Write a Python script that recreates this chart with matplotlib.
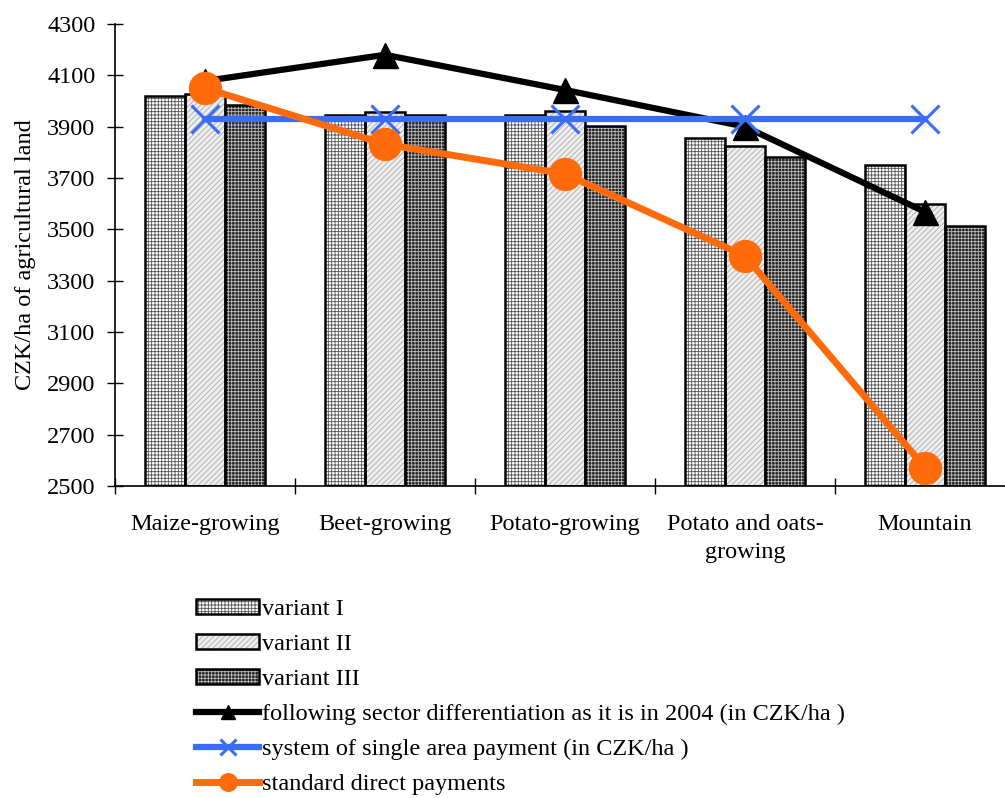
import matplotlib.pyplot as plt
import numpy as np
from matplotlib.legend_handler import HandlerTuple

plt.rcParams["font.family"] = ["Liberation Serif", "DejaVu Serif"]
plt.rcParams["hatch.linewidth"] = 0.6

# Regions and payment variants (CZK/ha of agricultural land)
regions = ["Maize-growing", "Beet-growing", "Potato-growing",
           "Potato and oats-\ngrowing", "Mountain"]
variant_1 = [4020, 3945, 3945, 3855, 3750]
variant_2 = [4028, 3958, 3960, 3826, 3598]
variant_3 = [3986, 3945, 3903, 3782, 3512]
sector_2004 = [4078, 4180, 4043, 3900, 3568]
single_area = [3928, 3928, 3928, 3928, 3928]
standard_direct = [4050, 3832, 3716, 3396, 2572]

fs = 17.5

fig = plt.figure(figsize=(10.05, 7.98), dpi=100)
ax = fig.add_axes([115 / 1005, 1 - 486 / 798, 900 / 1005, 462 / 798])

x = np.arange(len(regions))
w = 0.222
base = 2500

styles = [
    (variant_1, -w, "white", "#555555", "+++++"),
    (variant_2, 0, "#eeeeee", "#aaaaaa", "//////"),
    (variant_3, w, "#222222", "#bbbbbb", "+++++"),
]
bar_handles = []
for vals, off, fc, hc, hatch in styles:
    heights = np.array(vals) - base
    fill = ax.bar(x + off, heights, w, bottom=base, color=fc,
                  edgecolor=hc, hatch=hatch, linewidth=0, zorder=2)
    edge = ax.bar(x + off, heights, w, bottom=base, fill=False,
                  edgecolor="black", linewidth=1.8, zorder=3)
    bar_handles.append((fill, edge))

l_sector, = ax.plot(x, sector_2004, color="black", lw=4.5, marker="^",
                    ms=18, zorder=4)
l_single, = ax.plot(x, single_area, color="#3b6cf5", lw=4.5, marker="x",
                    ms=20, mew=2.2, zorder=5)
l_std, = ax.plot(x, standard_direct, color="#ff6a0a", lw=5, marker="o",
                 ms=23, zorder=6)

ax.set_xlim(-0.5, 4.5)
ax.set_ylim(2500, 4300)
ax.set_yticks(np.arange(2500, 4301, 200))
ax.set_xticks(x)
ax.set_xticklabels(regions, linespacing=1.45)
ax.set_xticks(np.arange(-0.5, 4.6, 1), minor=True)
ax.tick_params(axis="x", which="major", length=0, pad=20, labelsize=fs)
ax.tick_params(axis="x", which="minor", direction="inout", length=12, width=1)
ax.tick_params(axis="y", direction="inout", length=12, width=1, labelsize=fs,
               pad=8)
for side in ["top", "right"]:
    ax.spines[side].set_visible(False)
for side in ["left", "bottom"]:
    ax.spines[side].set_linewidth(1.2)
ax.set_ylabel("CZK/ha of agricultural land", fontsize=fs, labelpad=8)

handles = bar_handles + [l_sector, l_single, l_std]
labels = ["variant I", "variant II", "variant III",
          "following sector differentiation as it is in 2004 (in CZK/ha )",
          "system of single area payment (in CZK/ha )",
          "standard direct payments"]
fig.legend(handles, labels, loc="upper left",
           bbox_to_anchor=(196 / 1005, 1 - 599 / 798), frameon=False,
           fontsize=fs, handlelength=2.6, handleheight=0.6,
           labelspacing=0.56, handletextpad=0.1, borderaxespad=0,
           borderpad=0, markerscale=0.55,
           handler_map={tuple: HandlerTuple(ndivide=1)})

fig.savefig("out.png", dpi=100)
